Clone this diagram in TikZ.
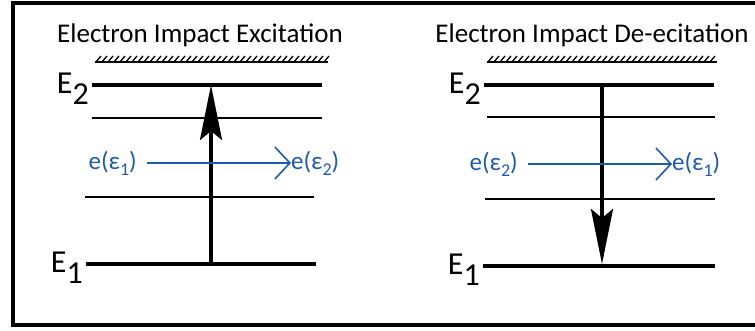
\documentclass[tikz,border=0pt]{standalone}
\usepackage{fontspec}
\setmainfont{Carlito}
\usetikzlibrary{arrows.meta,positioning}
\definecolor{eblue}{RGB}{30,90,170}
\newcommand{\lvl}[2]{#1\raisebox{-0.7ex}{#2}}
\newcommand{\esub}[1]{\raisebox{-0.5ex}{\fontsize{18}{20}\selectfont #1}}

\begin{document}
\begin{tikzpicture}[x=1pt,y=-1pt,
    level/.style={line width=3.6pt},
    sublevel/.style={line width=1.8pt},
    jump/.style={line width=3.6pt,-{Stealth[length=55pt,width=22pt,inset=9pt]}},
    electron/.style={eblue,line width=1.6pt,
      -{Straight Barb[length=15pt,width=32pt,line width=1.6pt]}},
    elabel/.style={eblue,inner sep=0pt,font=\fontsize{25}{30}\selectfont},
    title/.style={inner sep=0pt,font=\fontsize{27}{32}\selectfont},
    energy/.style={inner sep=0pt,anchor=east,font=\fontsize{32}{38}\selectfont},
    wall/.style={line width=1.4pt}]
  \useasboundingbox (0,0) rectangle (755,331);
  \draw[line width=4pt] (13,3) rectangle (780,325);

  % left: excitation
  \node[title] (t-ex) at (200,35) {Electron Impact Excitation};
  \draw[wall] (95,62) -- (328,62);
  \foreach \x in {96,102,...,324}
    \draw[line width=1.3pt] (\x,62) -- ++(5,-6);
  \draw[level] (92,85) coordinate (ex-a2) -- (322,85) coordinate (ex-b2);
  \draw[sublevel] (92,118) -- (322,118);
  \draw[sublevel] (85,197) -- (314,197);
  \draw[level] (86,264) coordinate (ex-a1) -- (316,264) coordinate (ex-b1);
  \node[energy] (ex-e2) at ([xshift=-3pt,yshift=-4pt]ex-a2) {\lvl{E}{2}};
  \node[energy] (ex-e1) at ([xshift=-3pt,yshift=-4pt]ex-a1) {\lvl{E}{1}};
  \coordinate (ex-lo) at (211,264);
  \coordinate (ex-hi) at (211,85);
  \draw[jump] (ex-lo) -- (ex-hi);
  \node[elabel,anchor=east] (ex-in) at (137,163) {e(ε\esub{1})};
  \node[elabel,anchor=west] (ex-out) at (291,163) {e(ε\esub{2})};
  \draw[electron] ([xshift=10pt]ex-in.east) -- (ex-out.west);

  % right: de-excitation
  \node[title] (t-de) at (592,35) {Electron Impact De-ecitation};
  \draw[wall] (487,62) -- (717,62);
  \foreach \x in {488,494,...,712}
    \draw[line width=1.3pt] (\x,62) -- ++(5,-6);
  \draw[level] (484,85) coordinate (de-a2) -- (714,85) coordinate (de-b2);
  \draw[sublevel] (487,117) -- (715,117);
  \draw[sublevel] (485,199) -- (715,199);
  \draw[level] (483,266) coordinate (de-a1) -- (715,266) coordinate (de-b1);
  \node[energy] (de-e2) at ([xshift=-3pt,yshift=-4pt]de-a2) {\lvl{E}{2}};
  \node[energy] (de-e1) at ([xshift=-3pt,yshift=-4pt]de-a1) {\lvl{E}{1}};
  \coordinate (de-hi) at (602,85);
  \coordinate (de-lo) at (602,264);
  \draw[jump] (de-hi) -- (de-lo);
  \node[elabel,anchor=east] (de-in) at (518,164) {e(ε\esub{2})};
  \node[elabel,anchor=west] (de-out) at (672,164) {e(ε\esub{1})};
  \draw[electron] ([xshift=10pt]de-in.east) -- (de-out.west);
\end{tikzpicture}
\end{document}
